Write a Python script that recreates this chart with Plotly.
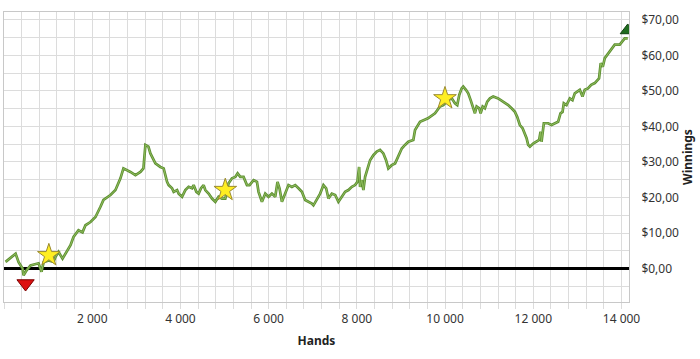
import plotly.graph_objects as go

hands = [36, 195, 263, 331, 421, 444, 512, 602, 693, 783, 851, 898, 1010, 1123, 1168, 1236, 1327, 1417,
         1508, 1576, 1689, 1780, 1847, 1960, 2074, 2187, 2255, 2414, 2527, 2640, 2708, 2866, 2980, 3093,
         3161, 3206, 3274, 3319, 3432,
         3545, 3620, 3697, 3733, 3810, 3847, 3924, 3960, 4037, 4111, 4186, 4263, 4299, 4361, 4413, 4467,
         4526, 4564, 4639, 4716, 4791, 4865, 4942, 5017, 5092, 5169, 5244, 5296, 5357, 5431, 5508, 5567,
         5658, 5735, 5771, 5848, 5923, 5997, 6074, 6149, 6201, 6246, 6301, 6375, 6450, 6527, 6602, 6677,
         6754, 6828, 6903, 6980, 7016, 7093, 7168, 7243, 7304, 7356, 7433, 7508, 7582, 7659, 7734, 7809,
         7886, 7960, 8012, 8051, 8073, 8112, 8148, 8187, 8225, 8300, 8374, 8452, 8526, 8601, 8662, 8714,
         8791, 8866, 8918, 8963, 9018, 9092, 9167, 9280, 9319, 9432, 9613, 9772,
         9885, 9960, 10073, 10150, 10224, 10276, 10322, 10376, 10412, 10473, 10525, 10580, 10639, 10677,
         10716, 10775, 10806, 10852, 10903, 10956, 11017, 11091, 11205, 11318, 11431, 11508, 11583, 11635,
         11696, 11757, 11809, 11848, 11884, 11923, 11997, 12074, 12133, 12165, 12187, 12239, 12336, 12413,
         12488, 12563, 12617, 12663, 12692, 12753, 12828, 12889, 12941, 12993, 13054, 13115, 13167, 13239,
         13313, 13394, 13491, 13529, 13576, 13621, 13734, 13847, 13960, 14028, 14073, 14141]
winnings = [1.9, 3.5, 4.2, 1.8, 0.0, -1.9, -0.5, 0.9, 1.3, 1.5, -0.9, 1.8, 2.3, 1.9, 3.3, 4.7, 2.8, 4.7,
            6.6, 8.9, 10.8, 10.2, 12.2, 13.1, 14.5, 17.4, 19.3, 20.7, 22.1, 25.4, 28.2, 27.2, 26.3, 27.2,
            28.2, 34.8, 34.3, 32.4, 29.6,
            28.6, 28.2, 24.4, 23.5, 22.6, 21.6, 22.1, 21.1, 20.2, 22.1, 23.0, 22.6, 23.5, 21.6, 21.1, 22.6,
            23.5, 22.1, 21.1, 19.7, 18.8, 20.2, 19.7, 19.7, 24.0, 25.4, 25.8, 26.8, 25.8, 25.8, 23.5, 23.5,
            24.9, 24.4, 21.6, 18.8, 21.1, 20.2, 21.1, 20.2, 24.4, 22.6, 18.8, 21.1, 23.5, 23.0, 23.5, 22.6,
            21.6, 19.3, 18.8, 18.3, 17.8, 19.3, 21.1, 23.5, 22.6, 19.7, 21.1, 20.7, 18.8, 20.2, 21.6, 22.1,
            23.0, 23.5, 24.4, 28.6, 23.0, 24.9, 22.1, 25.8, 27.2, 30.5, 31.9, 32.9, 33.4, 32.4, 30.5, 28.2,
            29.1, 29.6, 31.0, 32.4, 33.8, 34.8, 35.7, 36.2, 39.0, 41.3, 42.3, 43.7,
            45.6, 46.0, 47.4, 47.9, 46.5, 46.0, 48.9, 50.7, 51.2, 50.3, 49.3, 47.4, 45.1, 43.7,
            45.6, 45.1, 43.7, 45.6, 45.1, 47.0, 47.9, 48.4, 47.9, 47.0, 46.0, 45.1, 44.1, 42.7,
            40.4, 39.5, 38.1, 36.7, 34.8, 34.3, 35.2, 35.7, 36.2, 38.5, 35.7, 40.9, 40.9, 40.4,
            40.9, 41.3, 43.7, 44.1, 46.5, 46.0, 47.9, 47.4, 49.3, 49.8, 50.3, 48.4, 50.3, 50.7,
            51.7, 52.2, 53.5, 57.8, 56.8, 59.2, 61.1, 63.0, 63.0, 63.9, 64.8, 64.8]

star_hands = [1017, 5017, 9998]
star_values = [3.75, 22.1, 47.9]
low_hand = [489]
low_value = [-4.2]
high_hand = [14141]
high_value = [67.0]

x_tickvals = [2000, 4000, 6000, 8000, 10000, 12000, 14000]
x_ticktext = ["2 000", "4 000", "6 000", "8 000", "10 000", "12 000", "14 000"]
y_tickvals = [0, 10, 20, 30, 40, 50, 60, 70]
y_ticktext = ["$0,00", "$10,00", "$20,00", "$30,00", "$40,00", "$50,00", "$60,00", "$70,00"]

fig = go.Figure()
fig.add_trace(go.Scatter(x=hands, y=winnings, mode="lines",
                         line=dict(color="#5e8f33", width=2.7), hoverinfo="skip"))
fig.add_trace(go.Scatter(x=hands, y=winnings, mode="lines",
                         line=dict(color="#8fbd5c", width=1.0), hoverinfo="skip"))
fig.add_trace(go.Scatter(x=star_hands, y=star_values, mode="markers",
                         marker=dict(symbol="star", size=17, color="#ffee22",
                                     line=dict(color="#9a8a30", width=1))))
fig.add_trace(go.Scatter(x=low_hand, y=low_value, mode="markers",
                         marker=dict(symbol="triangle-down", size=15, color="#dd1111",
                                     line=dict(color="#7a0000", width=1))))
fig.add_trace(go.Scatter(x=high_hand, y=high_value, mode="markers",
                         marker=dict(symbol="triangle-up", size=13, color="#1e6b1e",
                                     line=dict(color="#104010", width=1))))

grid = "#dcdcdc"
fig.update_layout(
    width=700, height=359,
    margin=dict(l=4, r=71, t=12, b=57),
    paper_bgcolor="white", plot_bgcolor="white",
    showlegend=False,
    font=dict(family="Noto Sans, Open Sans, sans-serif", size=12, color="#333333"),
    xaxis=dict(
        range=[0, 14170],
        tickvals=x_tickvals, ticktext=x_ticktext,
        showgrid=True, gridcolor=grid, gridwidth=1,
        minor=dict(dtick=400, tick0=0, showgrid=True, gridcolor=grid, ticks="outside",
                   ticklen=6, tickcolor=grid),
        ticks="outside", ticklen=6, tickcolor=grid,
        showline=True, linecolor="#c8c8c8", mirror=True,
        zeroline=False,
        title=dict(text="<b>Hands</b>", font=dict(size=12, color="#222222"), standoff=10),
    ),
    yaxis=dict(
        side="right",
        range=[-9.4, 72.2],
        tickvals=y_tickvals, ticktext=y_ticktext,
        showgrid=True, gridcolor=grid, gridwidth=1,
        minor=dict(dtick=5, tick0=0, showgrid=True, gridcolor=grid),
        ticks="", ticklabelstandoff=9,
        showline=True, linecolor="#c8c8c8", mirror=True,
        zeroline=True, zerolinecolor="#000000", zerolinewidth=2.5,
        title=dict(text="<b>Winnings</b>", font=dict(size=12, color="#222222"), standoff=5),
    ),
)

fig.write_html("out.html")
